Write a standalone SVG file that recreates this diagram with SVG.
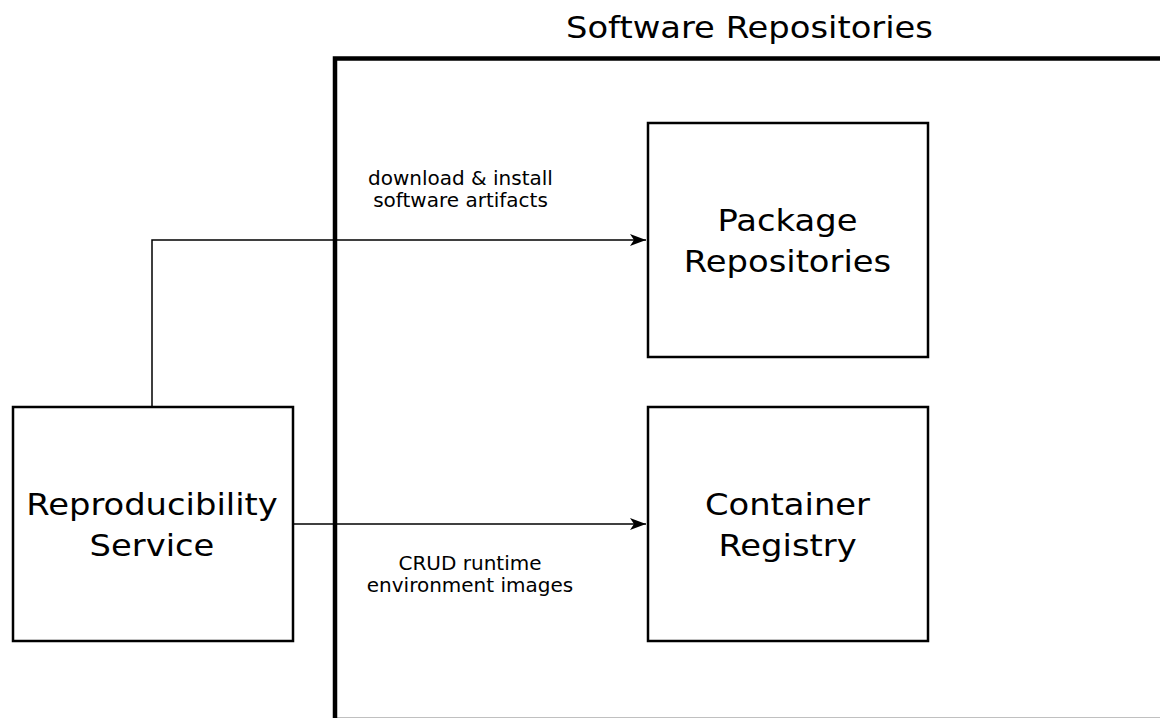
<svg xmlns="http://www.w3.org/2000/svg" width="1160" height="718" viewBox="0 0 1160 718">
<style>
text{font-family:"DejaVu Sans",sans-serif;fill:#000;text-anchor:middle}
.box{fill:#fff;stroke:#000;stroke-width:2.5}
.big{font-size:31px}
.lbl{font-size:20px}
.conn{fill:none;stroke:#000;stroke-width:1.5}
</style>
<defs>
<marker id="arr" viewBox="0 0 16 12" refX="16" refY="6" markerWidth="16" markerHeight="12" markerUnits="userSpaceOnUse" orient="auto">
<path d="M0,0 L16,6 L0,12 L4,6 Z" fill="#000"/>
</marker>
</defs>
<rect width="1160" height="718" fill="#fff"/>
<g id="software-repositories">
<rect x="335" y="58.5" width="840" height="661.5" fill="none" stroke="#000" stroke-width="4.5"/>
<text class="big" transform="translate(749.5,38) scale(1.09,1)">Software Repositories</text>
</g>
<g id="connectors">
<polyline class="conn" points="152,407 152,240 646,240" marker-end="url(#arr)"/>
<line class="conn" x1="293" y1="524" x2="646" y2="524" marker-end="url(#arr)"/>
<text class="lbl" x="460.5" y="185">download &amp; install</text>
<text class="lbl" x="460.5" y="207">software artifacts</text>
<text class="lbl" x="470" y="570">CRUD runtime</text>
<text class="lbl" x="470" y="592">environment images</text>
</g>
<g id="reproducibility-service">
<rect class="box" x="13" y="407" width="280" height="234"/>
<text class="big" transform="translate(152,515) scale(1.09,1)">Reproducibility</text>
<text class="big" transform="translate(152,556) scale(1.09,1)">Service</text>
</g>
<g id="package-repositories">
<rect class="box" x="648" y="123" width="280" height="234"/>
<text class="big" transform="translate(787.5,231) scale(1.09,1)">Package</text>
<text class="big" transform="translate(787.5,272) scale(1.09,1)">Repositories</text>
</g>
<g id="container-registry">
<rect class="box" x="648" y="407" width="280" height="234"/>
<text class="big" transform="translate(787.5,515) scale(1.09,1)">Container</text>
<text class="big" transform="translate(787.5,556) scale(1.09,1)">Registry</text>
</g>
</svg>
